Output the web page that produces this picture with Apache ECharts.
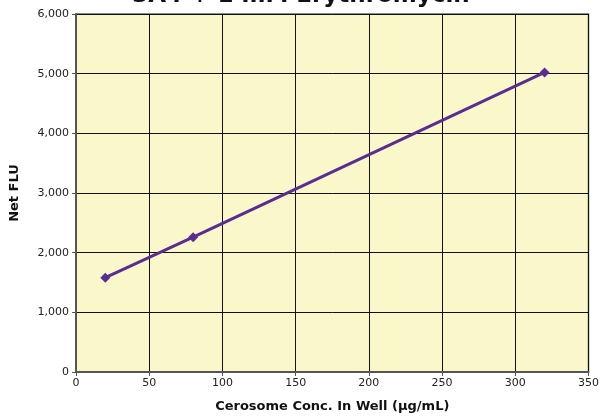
<!DOCTYPE html>
<html>
<head>
    <meta charset="UTF-8"/>
    <script src="https://cdn.jsdelivr.net/npm/echarts@6/dist/echarts.min.js"></script>
    <style>
        html, body { margin: 0; padding: 0; background: #fff; }
        #chart { width: 602px; height: 418px; }
    </style>
</head>
<body>
<div id="chart"></div>
<script>
    // concentration (ug/mL) and net fluorescence
    var conc = [20, 80, 320];
    var netFlu = [1580, 2260, 5020];
    var titleText = '3A4 + 1 mM Erythromycin';

    var pts = [];
    for (var i = 0; i < conc.length; i++) {
        pts.push([conc[i], netFlu[i]]);
    }

    var font = 'DejaVu Sans';
    var chart = echarts.init(document.getElementById('chart'));
    chart.setOption({
        animation: false,
        title: {
            text: titleText,
            left: 'center',
            top: -20,
            textStyle: { fontFamily: font, fontSize: 23, fontWeight: 'bold', color: '#111' }
        },
        grid: {
            left: 75, right: 11, top: 14, bottom: 42,
            show: true,
            backgroundColor: '#faf7cb',
            borderColor: '#666',
            borderWidth: 1.5
        },
        xAxis: {
            type: 'value',
            min: 0, max: 350, interval: 50,
            name: 'Cerosome Conc. In Well (µg/mL)',
            nameLocation: 'middle',
            nameGap: 28,
            nameTextStyle: { fontFamily: font, fontSize: 13, fontWeight: 'bold', color: '#111' },
            axisLine: { lineStyle: { color: '#555', width: 2 } },
            axisTick: { show: true, length: 4, lineStyle: { color: '#555' } },
            axisLabel: { fontFamily: font, fontSize: 11, color: '#222', margin: 6 },
            splitLine: { show: true, lineStyle: { color: '#111', width: 1 } }
        },
        yAxis: {
            type: 'value',
            min: 0, max: 6000, interval: 1000,
            name: 'Net FLU',
            nameLocation: 'middle',
            nameGap: 55,
            nameTextStyle: { fontFamily: font, fontSize: 13, fontWeight: 'bold', color: '#111' },
            axisLine: { show: true, lineStyle: { color: '#555', width: 2 } },
            axisTick: { show: true, length: 4, lineStyle: { color: '#555' } },
            axisLabel: {
                fontFamily: font, fontSize: 11, color: '#222', margin: 7,
                formatter: function (v) { return v.toLocaleString('en-US'); }
            },
            splitLine: { show: true, lineStyle: { color: '#111', width: 1 } }
        },
        series: [{
            type: 'line',
            data: pts,
            symbol: 'diamond',
            symbolSize: 10,
            lineStyle: { color: '#5a2d91', width: 3 },
            itemStyle: { color: '#5a2d91' }
        }]
    });
</script>
</body>
</html>
